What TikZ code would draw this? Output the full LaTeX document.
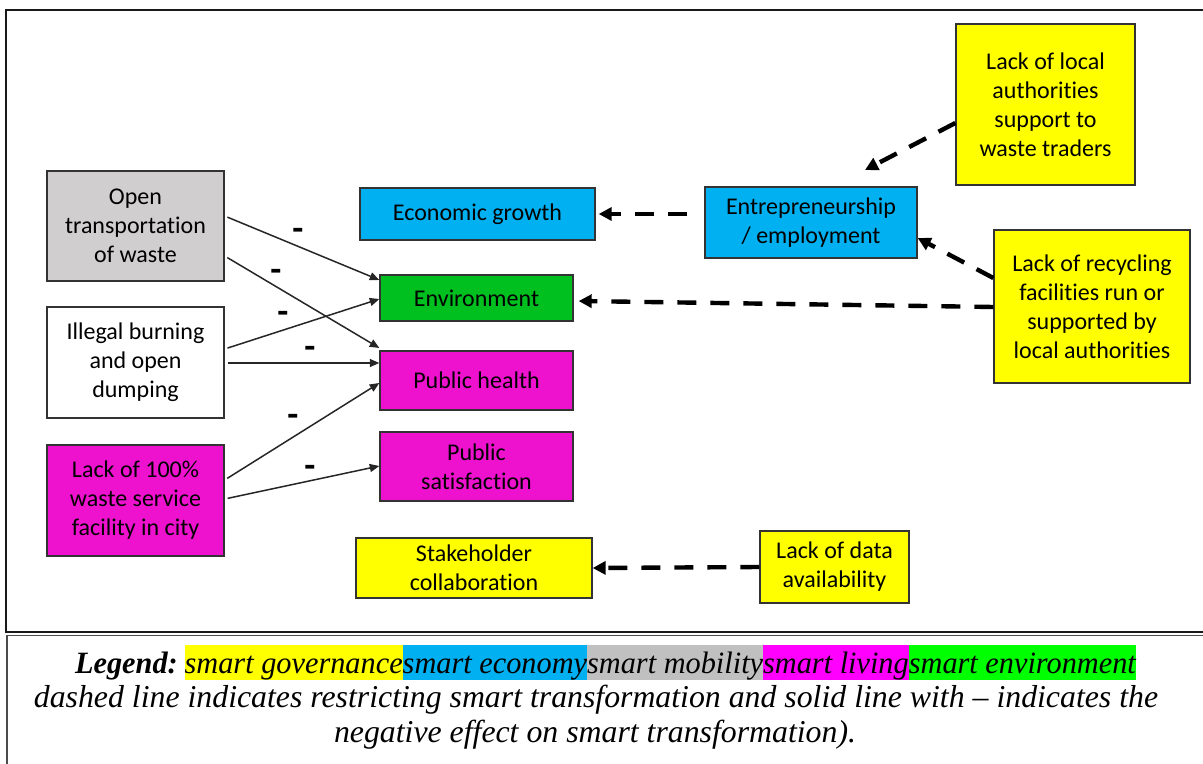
\documentclass[tikz,border=0pt]{standalone}
\usepackage{fontspec}
\setmainfont{Liberation Serif}
\newfontfamily\boxfont[Ligatures=NoCommon,RawFeature={-calt;-dlig}]{Carlito}
\usetikzlibrary{arrows.meta}

\definecolor{cgray}{RGB}{208,206,206}
\definecolor{cblue}{RGB}{0,176,240}
\definecolor{cgreen}{RGB}{0,192,32}
\definecolor{cmag}{RGB}{238,18,206}
\definecolor{cyel}{RGB}{255,255,0}
\definecolor{lgray}{RGB}{192,192,192}
\definecolor{lmag}{RGB}{255,0,255}
\definecolor{lgreen}{RGB}{0,255,0}

% highlighted run of legend text
\newcommand\hlbox[2]{{\setlength\fboxsep{0pt}\colorbox{#1}{\rule[-0.216em]{0pt}{1.107em}#2}}}

\begin{document}
\begin{tikzpicture}[x=0.5pt,y=-0.5pt,
  box/.style={draw=black!80, line width=0.65pt, align=center,
    font=\boxfont\fontsize{12}{14.5}\selectfont, inner sep=0pt},
  neg/.style={-{Triangle[length=4.8pt,width=4pt]}, draw=black!85,
    line width=0.75pt, shorten <=1.5pt},
  restr/.style={-{Triangle[length=6.5pt,width=6.5pt]}, line width=2.2pt,
    dash pattern=on 9.5pt off 7pt},
  minus/.style={font=\boxfont\fontsize{18}{18}\bfseries\selectfont, inner sep=0pt},
  legendline/.style={anchor=base, inner sep=0pt,
    font=\itshape\fontsize{15.9}{17}\selectfont}
]
\useasboundingbox (0,0) rectangle (1203,764);

% frames
\draw[line width=1pt, black!90] (6,10) rectangle (1215,632);
\draw[line width=0.7pt, black!70] (7,635.5) rectangle (1215,775);

% left column
\node[box, fill=cgray, minimum width=88.5pt, minimum height=55pt] (ot) at (135.5,226) {Open\\transportation\\of waste};
\node[box, fill=white, minimum width=88.5pt, minimum height=55.5pt] (ib) at (135.5,362.5) {Illegal burning\\and open\\dumping};
\node[box, fill=cmag, minimum width=88.5pt, minimum height=55.5pt] (lk) at (135.5,500.5) {Lack of 100\%\\waste service\\facility in city};

% middle column
\node[box, fill=cblue, minimum width=117.5pt, minimum height=26pt] (eg) at (477.5,214) {Economic growth};
\node[box, fill=cgreen, minimum width=96.5pt, minimum height=23pt] (env) at (476.5,298) {Environment};
\node[box, fill=cmag, minimum width=96.5pt, minimum height=29.5pt] (ph) at (476.5,380.5) {Public health};
\node[box, fill=cmag, minimum width=96.5pt, minimum height=34.5pt] (ps) at (476.5,466.5) {Public\\satisfaction};
\node[box, fill=cyel, minimum width=118pt, minimum height=30pt] (sc) at (474,568) {Stakeholder\\collaboration};

% right side
\node[box, fill=cblue, minimum width=106pt, minimum height=35.5pt] (ent) at (811,222.5) {Entrepreneurship\\/ employment};
\node[box, fill=cyel, minimum width=89.5pt, minimum height=80.5pt] (loc) at (1045.5,104.5) {Lack of local\\authorities\\support to\\waste traders};
\node[box, fill=cyel, minimum width=98pt, minimum height=76.5pt] (rec) at (1092,306.5) {Lack of recycling\\facilities run or\\supported by\\local authorities};
\node[box, fill=cyel, minimum width=74.5pt, minimum height=36pt] (dat) at (834.5,567) {Lack of data\\availability};

% negative effects
\draw[neg] (ot.east |- 0,216) -- (env.west |- 0,280);
\draw[neg] (ot.east |- 0,256) -- (ph.west |- 0,348);
\draw[neg] (ib.east |- 0,349) -- (env.west |- 0,299);
\draw[neg] (ib.east |- 0,363) -- (ph.west |- 0,363);
\draw[neg] (lk.east |- 0,480) -- (ph.west |- 0,383);
\draw[neg] (lk.east |- 0,499) -- (ps.west |- 0,466);
\node[minus] (m1) at (298,234) {-};
\node[minus] (m2) at (276,275) {-};
\node[minus] (m3) at (283,317) {-};
\node[minus] (m4) at (310,352) {-};
\node[minus] (m5) at (293,420) {-};
\node[minus] (m6) at (310,471) {-};

% restricting links
\coordinate (entL) at ([xshift=-8.5pt]ent.west);
\coordinate (entT) at (865,170);
\coordinate (envR) at ([xshift=2.5pt]env.east);
\coordinate (egR) at ([xshift=1.5pt]eg.east);
\draw[restr] (entL |- eg.east) -- (egR);
\draw[restr] (loc.west |- 0,123) -- (entT);
\draw[restr] (rec.west |- 0,278) -- (ent.east |- 0,238);
\draw[restr] (rec.west |- 0,307) -- (envR |- 0,301);
\draw[restr] (dat.west) -- (sc.east);

% legend
\node[legendline, font=\itshape\fontsize{15.5}{17}\selectfont] (lg1) at (605.5,673) {\scalebox{0.978}[1]{\textbf{Legend:}\hspace{3.5pt}\hlbox{cyel}{smart governance}\hlbox{cblue}{smart economy}\hlbox{lgray}{smart mobility}\hlbox{lmag}{smart living}\hlbox{lgreen}{smart environment}}};
\node[legendline] (lg2) at (596,707) {dashed line indicates restricting smart transformation and solid line with -- indicates the};
\node[legendline] (lg3) at (595,742) {negative effect on smart transformation).};
\end{tikzpicture}
\end{document}
